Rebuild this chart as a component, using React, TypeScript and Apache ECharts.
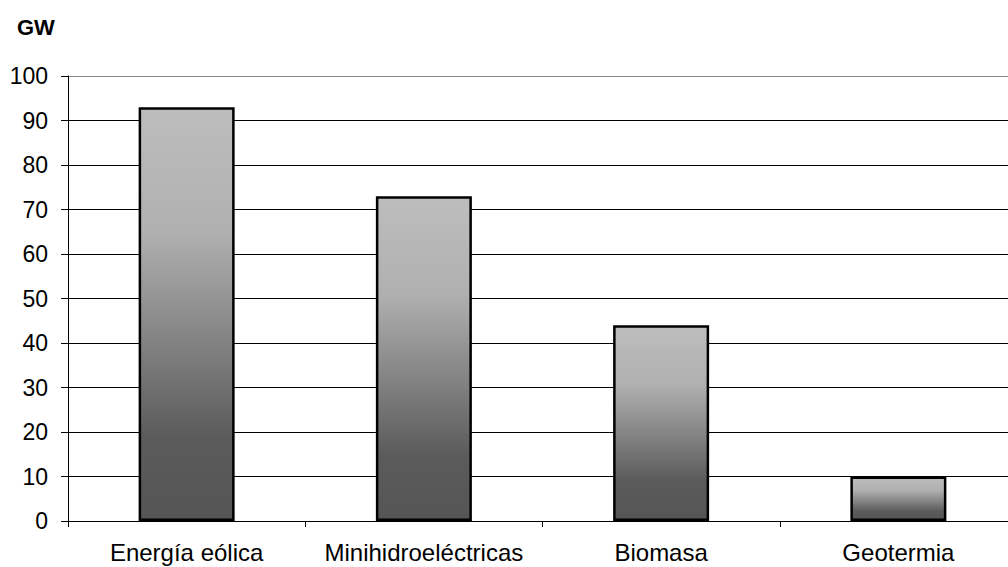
import React, { useEffect, useRef } from "react";
import * as echarts from "echarts";

const categories = ["Energía eólica", "Minihidroeléctricas", "Biomasa", "Geotermia"];
const values = [93, 73, 44, 10];
const unitLabel = "GW";

export default function App() {
  const ref = useRef<HTMLDivElement>(null);
  useEffect(() => {
    if (!ref.current) return;
    const chart = echarts.init(ref.current, null, { renderer: "svg" });
    const font = "'Liberation Sans', Arial, sans-serif";
    chart.setOption({
      animation: false,
      backgroundColor: "#fff",
      graphic: [
        {
          type: "text",
          left: 17,
          top: 16,
          style: { text: unitLabel, font: `bold 22px ${font}`, fill: "#000" },
        },
      ],
      grid: { left: 68, top: 76, right: 0, bottom: 46, containLabel: false },
      xAxis: {
        type: "category",
        data: categories,
        axisLine: { show: true, lineStyle: { color: "#000", width: 1 } },
        axisTick: { show: true, length: 6, lineStyle: { color: "#000" }, alignWithLabel: false },
        axisLabel: { color: "#000", fontSize: 24, fontFamily: font, margin: 19, interval: 0 },
        splitLine: { show: false },
      },
      yAxis: {
        type: "value",
        min: 0,
        max: 100,
        interval: 10,
        axisLine: { show: true, lineStyle: { color: "#000", width: 1 } },
        axisTick: { show: true, length: 7, lineStyle: { color: "#000" } },
        axisLabel: { color: "#000", fontSize: 23, fontFamily: font, margin: 20 },
        splitLine: {
          show: true,
          lineStyle: { color: ["#000", "#000", "#000", "#000", "#000", "#000", "#000", "#000", "#000", "#000", "#888"], width: 1 },
        },
      },
      series: [
        {
          type: "bar",
          data: values,
          barWidth: 96,
          itemStyle: {
            borderColor: "#000",
            borderWidth: 2.5,
            color: new echarts.graphic.LinearGradient(0, 0, 0, 1, [
              { offset: 0, color: "#bdbdbd" },
              { offset: 0.3, color: "#b0b0b0" },
              { offset: 0.8, color: "#5b5b5b" },
              { offset: 1, color: "#555555" },
            ]),
          },
        },
      ],
    });
    return () => chart.dispose();
  }, []);
  return (
    <div style={{ width: 1008, height: 567, position: "absolute", left: 0, top: 0, overflow: "hidden" }}>
      <div ref={ref} style={{ width: 1017, height: 567 }} />
    </div>
  );
}
